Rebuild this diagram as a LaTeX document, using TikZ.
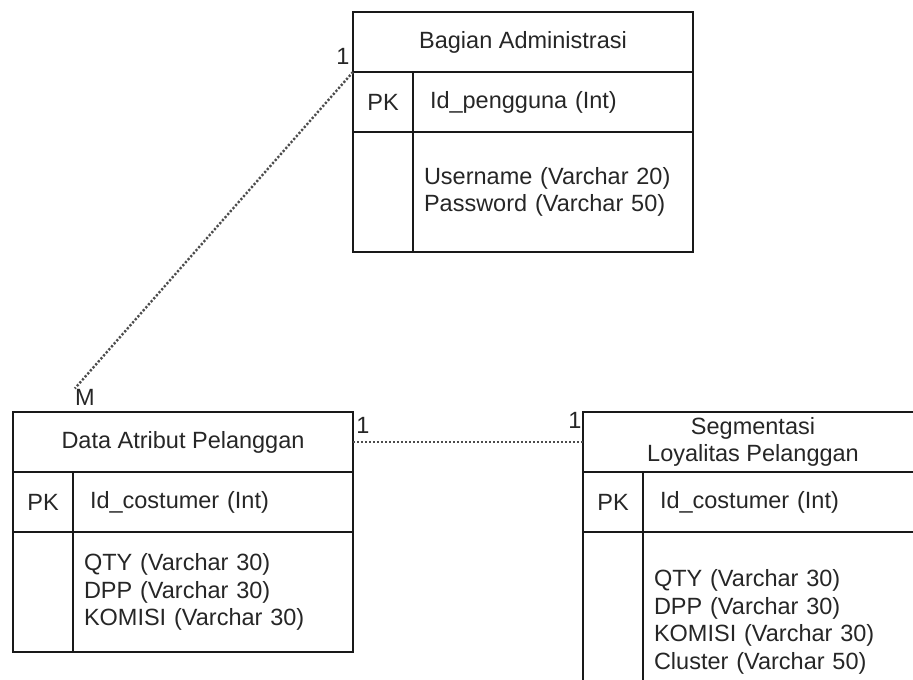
\documentclass[tikz,border=0pt]{standalone}
\usepackage{fontspec}
\setmainfont{Liberation Sans}
\usepackage{xcolor}
\usepackage{tikz}
\usetikzlibrary{positioning}

\newcommand{\erfont}{\fontsize{11.75}{13.75}\selectfont}

\tikzset{
    cell/.style={draw=black!90, line width=0.9pt, inner sep=0pt, outer sep=0pt,
                 font=\erfont, text=black!85},
    head/.style={cell, minimum width=170pt, minimum height=30pt, align=center},
    pkcell/.style={cell, minimum width=30pt, minimum height=30pt},
    keyfield/.style={cell, minimum height=30pt, text width=123pt, inner xsep=8.5pt, align=left},
    gapcell/.style={cell, minimum width=30pt, minimum height=#1},
    attrfield/.style={cell, minimum height=#1, text width=129pt, inner xsep=5.5pt, align=left},
    card/.style={font=\erfont, text=black!85, inner sep=0pt},
    rel/.style={black!70, line width=1.2pt, dash pattern=on 1.1pt off 0.9pt}
}

\begin{document}
\begin{tikzpicture}[x=0.5pt, y=-0.5pt]
    \clip (0,0) rectangle (913,679);

    \node[head, anchor=north west] (adm) at (353,12) {Bagian Administrasi};
    \node[pkcell, below right=0pt and 0pt of adm.south west] (adm-pk) {PK};
    \node[keyfield, right=0pt of adm-pk] (adm-key) {Id\_pengguna (Int)};
    \node[gapcell=60pt, below=0pt of adm-pk] (adm-gap) {};
    \node[attrfield=60pt, right=0pt of adm-gap] (adm-attr) {Username (Varchar 20)\\Password (Varchar 50)};

    \node[head, anchor=north west] (dap) at (13,412) {Data Atribut Pelanggan};
    \node[pkcell, below right=0pt and 0pt of dap.south west] (dap-pk) {PK};
    \node[keyfield, right=0pt of dap-pk] (dap-key) {Id\_costumer (Int)};
    \node[gapcell=60pt, below=0pt of dap-pk] (dap-gap) {};
    \node[attrfield=60pt, right=0pt of dap-gap] (dap-attr) {QTY (Varchar 30)\\DPP (Varchar 30)\\KOMISI (Varchar 30)};

    \node[head, anchor=north west] (slp) at (583,412) {Segmentasi\\Loyalitas Pelanggan};
    \node[pkcell, below right=0pt and 0pt of slp.south west] (slp-pk) {PK};
    \node[keyfield, right=0pt of slp-pk] (slp-key) {Id\_costumer (Int)};
    \node[gapcell=90pt, below=0pt of slp-pk] (slp-gap) {};
    \node[attrfield=90pt, right=0pt of slp-gap] (slp-attr) {QTY (Varchar 30)\\DPP (Varchar 30)\\KOMISI (Varchar 30)\\Cluster (Varchar 50)};

    \node[card] (one-adm) at (343,56) {1};
    \node[card] (m-dap) at (85,397) {M};
    \node[card] (one-dap) at (363,425) {1};
    \node[card] (one-slp) at (575,420) {1};

    \draw[rel] (adm.south west) -- (m-dap.north west);
    \draw[rel] (dap.east) -- (slp.west);
\end{tikzpicture}
\end{document}
